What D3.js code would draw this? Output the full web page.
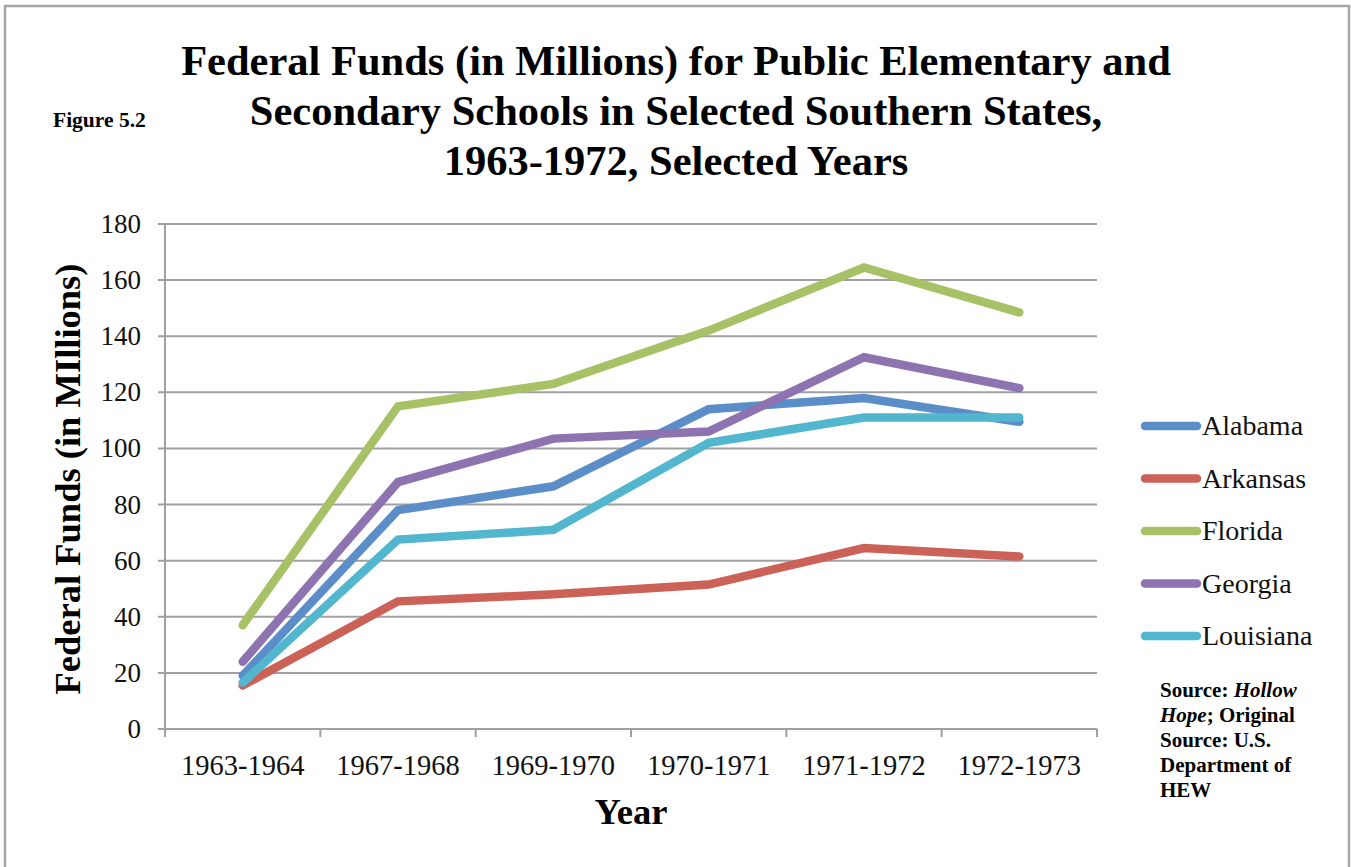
<!DOCTYPE html>
<html><head><meta charset="utf-8">
<script src="https://cdn.jsdelivr.net/npm/d3@7"></script>
<style>body{margin:0;background:#fff}svg{display:block}</style>
</head><body>
<script>
const categories = ["1963-1964","1967-1968","1969-1970","1970-1971","1971-1972","1972-1973"];
const seriesNames = ["Alabama","Arkansas","Florida","Georgia","Louisiana"];
const alabama   = [19, 78, 86.5, 114, 118, 109.5];
const arkansas  = [15.5, 45.5, 48, 51.5, 64.5, 61.5];
const florida   = [37, 115, 123, 142, 164.5, 148.5];
const georgia   = [24, 88, 103.5, 106, 132.5, 121.5];
const louisiana = [16.5, 67.5, 71, 102, 111, 111];
const yTicks = [0,20,40,60,80,100,120,140,160,180];
const colors = ["#5b8ec8","#cc6157","#a7c266","#8d74b0","#52b6cf"];
const titleLines = ["Federal Funds (in Millions) for Public Elementary and","Secondary Schools in Selected Southern States,","1963-1972, Selected Years"];

const W=1351,H=867;
const svg=d3.select("body").append("svg").attr("width",W).attr("height",H);
const serif="'Liberation Serif','Times New Roman',serif";

// frame
svg.append("path").attr("d",`M5,${H} L5,6 L1349,6 L1349,${H}`).attr("fill","none").attr("stroke","#a6a6a6").attr("stroke-width",2.5);

const x0=165,x1=1097,y0=729,y1=224;
const x=d3.scaleBand().domain(categories).range([x0,x1]);
const y=d3.scaleLinear().domain([0,180]).range([y0,y1]);

// grid
svg.append("g").selectAll("line").data(yTicks).join("line")
 .attr("x1",x0-7).attr("x2",x1).attr("y1",d=>y(d)).attr("y2",d=>y(d))
 .attr("stroke","#a0a0a0").attr("stroke-width",2);
// y axis
svg.append("line").attr("x1",x0).attr("x2",x0).attr("y1",y1).attr("y2",y0+8).attr("stroke","#a0a0a0").attr("stroke-width",2);
svg.append("g").selectAll("text").data(yTicks).join("text")
 .attr("x",141).attr("y",d=>y(d)+9).attr("text-anchor","end")
 .attr("font-family",serif).attr("font-size",27).attr("fill","#111").text(d=>d);
// x ticks
const bounds=categories.map(c=>x(c)).concat([x1]);
svg.append("g").selectAll("line").data(bounds).join("line")
 .attr("x1",d=>d).attr("x2",d=>d).attr("y1",y0).attr("y2",y0+8)
 .attr("stroke","#a0a0a0").attr("stroke-width",2);
svg.append("g").selectAll("text").data(categories).join("text")
 .attr("x",d=>x(d)+x.bandwidth()/2).attr("y",775).attr("text-anchor","middle")
 .attr("font-family",serif).attr("font-size",28.5).attr("fill","#111").text(d=>d);

// lines
const data=[alabama,arkansas,florida,georgia,louisiana];
const line=d3.line().x((d,i)=>x(categories[i])+x.bandwidth()/2).y(d=>y(d));
svg.append("g").selectAll("path").data(data).join("path")
 .attr("d",d=>line(d)).attr("fill","none")
 .attr("stroke",(d,i)=>colors[i]).attr("stroke-width",8.5)
 .attr("stroke-linecap","round").attr("stroke-linejoin","miter");

// legend
const lg=svg.append("g");
seriesNames.forEach((n,i)=>{
 const ly=426+i*52.5;
 lg.append("line").attr("x1",1145).attr("x2",1197).attr("y1",ly).attr("y2",ly)
  .attr("stroke",colors[i]).attr("stroke-width",8.5).attr("stroke-linecap","round");
 lg.append("text").attr("x",1202).attr("y",ly+9).attr("font-family",serif)
  .attr("font-size",28).attr("fill","#111").text(n);
});

// titles
svg.append("g").selectAll("text").data(titleLines).join("text")
 .attr("x",676).attr("y",(d,i)=>75+i*50).attr("text-anchor","middle")
 .attr("font-family",serif).attr("font-weight","bold").attr("font-size",42.5).attr("fill","#000").text(d=>d);
svg.append("text").attr("x",53).attr("y",127).attr("font-family",serif).attr("font-weight","bold")
 .attr("font-size",21.5).text("Figure 5.2");
svg.append("text").attr("transform","translate(80,479) rotate(-90)").attr("text-anchor","middle")
 .attr("font-family",serif).attr("font-weight","bold").attr("font-size",36.5).text("Federal Funds (in MIllions)");
svg.append("text").attr("x",631).attr("y",824).attr("text-anchor","middle")
 .attr("font-family",serif).attr("font-weight","bold").attr("font-size",36.5).text("Year");

// source
const src=svg.append("text").attr("font-family",serif).attr("font-weight","bold").attr("font-size",21);
const srcLines=[[["Source: ",false],["Hollow",true]],[["Hope",true],["; Original",false]],[["Source: U.S.",false]],[["Department of",false]],[["HEW",false]]];
srcLines.forEach((ln,i)=>{
 ln.forEach((seg,j)=>{
  const t=src.append("tspan").text(seg[0]).attr("font-style",seg[1]?"italic":"normal");
  if(j===0) t.attr("x",1160).attr("y",697+i*25);
 });
});
</script>
</body></html>
